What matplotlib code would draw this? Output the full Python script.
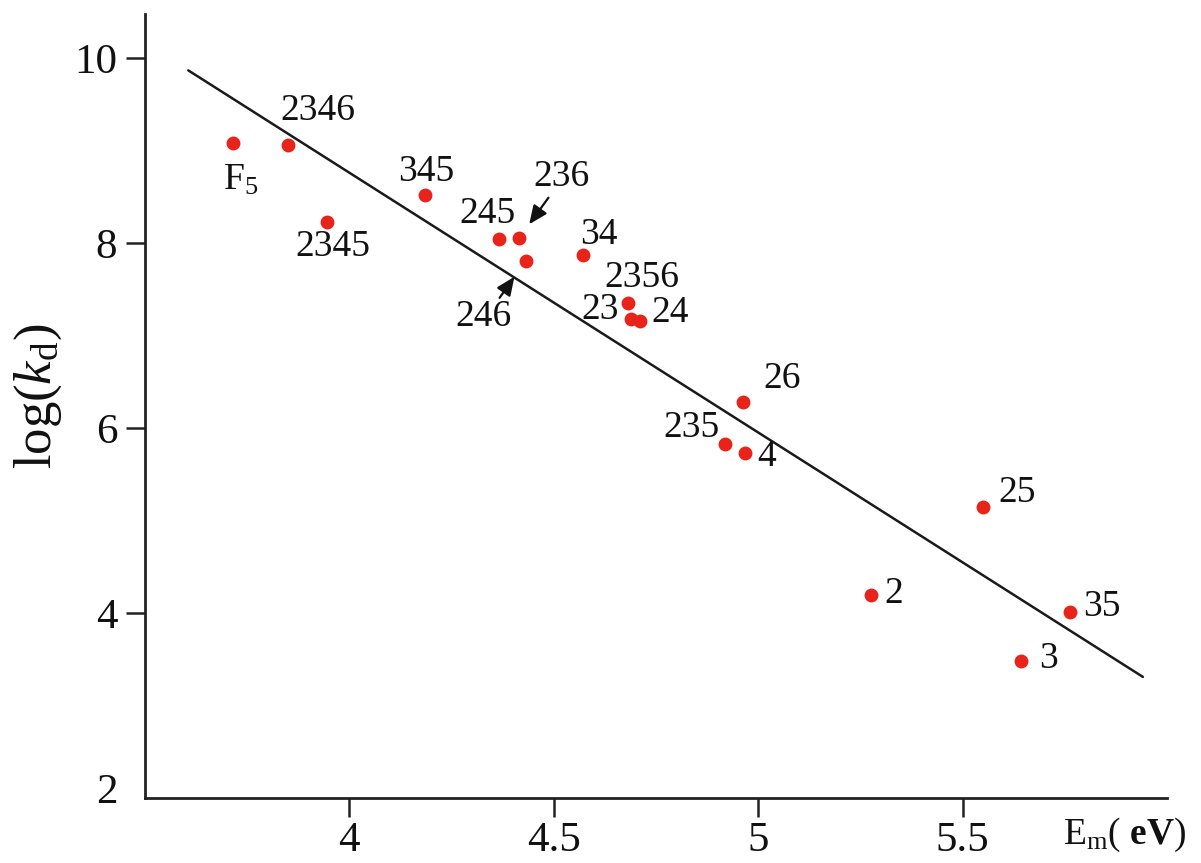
import matplotlib
matplotlib.use("Agg")
import matplotlib.pyplot as plt
import matplotlib.transforms as mtransforms

plt.rcParams['font.family'] = ['Liberation Serif', 'DejaVu Serif']
plt.rcParams['mathtext.fontset'] = 'custom'
plt.rcParams['mathtext.rm'] = 'Liberation Serif'
plt.rcParams['mathtext.it'] = 'Liberation Serif:italic'
plt.rcParams['mathtext.bf'] = 'Liberation Serif:bold'

# ---- data ----
labels = ["F$_5$", "2346", "2345", "345", "245", "236", "246", "34", "2356",
          "23", "24", "26", "235", "4", "25", "2", "35", "3"]
em = [3.716, 3.851, 3.946, 4.184, 4.365, 4.416, 4.431, 4.571, 4.681,
      4.689, 4.711, 4.962, 4.919, 4.968, 5.550, 5.275, 5.763, 5.643]
logkd = [9.08, 9.06, 8.23, 8.52, 8.05, 8.06, 7.81, 7.87, 7.35,
         7.18, 7.16, 6.28, 5.83, 5.73, 5.15, 4.20, 4.01, 3.48]
fit_x = [3.606, 5.941]
fit_y = [9.87, 3.31]
xticks = [4, 4.5, 5, 5.5]
xticklabels = ["4", "4.5", "5", "5.5"]
yticks = [2, 4, 6, 8, 10]
yticklabels = ["2", "4", "6", "8", "10"]

# label offsets in pixels (dx right, dy up) relative to each point
label_offsets = {
    "F$_5$": (7, -37), "2346": (29, 35), "2345": (6, -25), "345": (2, 23),
    "245": (-11, 25), "236": (42, 61), "246": (-42, -56), "34": (16, 21),
    "2356": (14, 26), "23": (-31, 9), "24": (30, 8), "26": (39, 24),
    "235": (-34, 16), "4": (22, -4), "25": (34, 14), "2": (23, 1),
    "35": (32, 5), "3": (27, 2),
}
arrow_specs = {"236": ((29, 40), 12), "246": ((-26, -37), 14)}

fig = plt.figure(figsize=(12.01, 8.63), dpi=100)
ax = fig.add_axes([0.1207, 0.0753, 0.851, 0.9085])

ax.plot(fit_x, fit_y, color='#1a1a1a', lw=1.8, solid_capstyle='round')
ax.plot(em, logkd, 'o', color='#e8231a', markersize=10, markeredgewidth=0)

for lab, x, y in zip(labels, em, logkd):
    dx, dy = label_offsets[lab]
    ax.annotate(lab, xy=(x, y), xytext=(dx, dy), textcoords='offset pixels',
                ha='center', va='center', fontsize=27, color='#111111')
    if lab in arrow_specs:
        (tx, ty), shrink = arrow_specs[lab]
        ax.annotate('', xy=(x, y), xytext=(tx, ty), textcoords='offset pixels',
                    arrowprops=dict(arrowstyle='-|>,head_length=0.8,head_width=0.35',
                                    color='#111111', lw=1.6, shrinkA=0,
                                    shrinkB=shrink, mutation_scale=14))

ax.set_xlim(3.5, 6.0)
ax.set_ylim(2, 10.48)
ax.set_xticks(xticks)
ax.set_xticklabels(xticklabels)
ax.set_yticks(yticks)
ax.set_yticklabels(yticklabels)
ax.yaxis.get_major_ticks()[0].tick1line.set_visible(False)

for s in ['top', 'right']:
    ax.spines[s].set_visible(False)
for s in ['left', 'bottom']:
    ax.spines[s].set_linewidth(2.0)
    ax.spines[s].set_color('#222222')

ax.tick_params(axis='both', direction='out', length=14, width=1.8,
               color='#222222', labelsize=31, labelcolor='#111111')
ax.tick_params(axis='y', pad=6)
ax.tick_params(axis='x', pad=3)

# lift the "2" label slightly, as in the original
lab2 = ax.get_yticklabels()[0]
lab2.set_transform(lab2.get_transform() +
                   mtransforms.ScaledTranslation(0, 10 / 100, fig.dpi_scale_trans))

fig.text(38 / 1201, 1 - 396 / 863, r'log($\mathit{k}_{\mathrm{d}}$)', rotation=90,
         ha='center', va='center', fontsize=38, color='#111111')
fig.text(1125 / 1201, 1 - 835 / 863, r'E$_{\mathrm{m}}$( $\mathbf{eV}$)',
         ha='center', va='center', fontsize=27, color='#111111')

fig.savefig('out.png', dpi=100, facecolor='white')
